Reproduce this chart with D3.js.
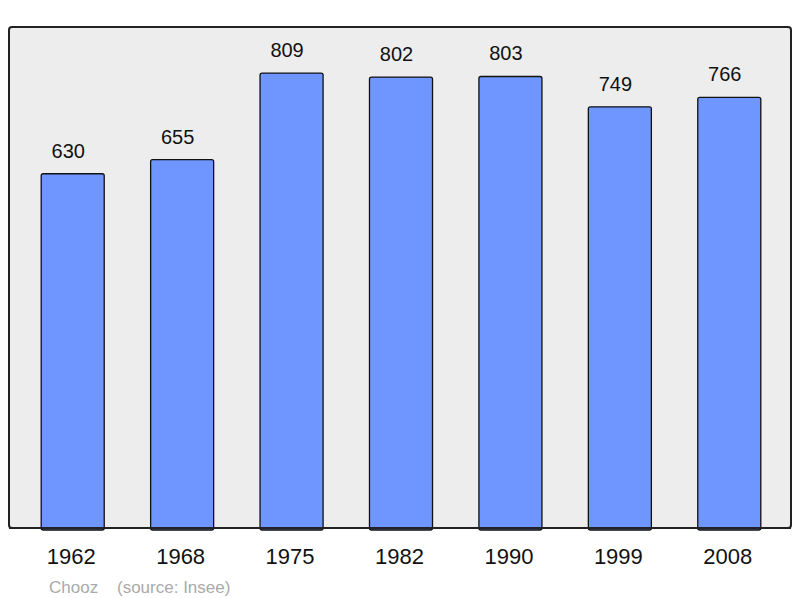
<!DOCTYPE html>
<html>
<head>
    <meta charset="utf-8">
    <script src="https://d3js.org/d3.v7.min.js"></script>
    <style>
        html, body {
            margin: 0;
            padding: 0;
            background: #fff;
        }
        svg text {
            font-family: "Liberation Sans", Arial, sans-serif;
        }
    </style>
</head>
<body>
<div id="chart"></div>
<script>
    var years = ["1962", "1968", "1975", "1982", "1990", "1999", "2008"];
    var population = [630, 655, 809, 802, 803, 749, 766];
    var townName = "Chooz";
    var sourceNote = "(source: Insee)";

    var width = 800,
        height = 598;

    var svg = d3.select("#chart").append("svg")
        .attr("width", width)
        .attr("height", height);

    // panel background
    svg.append("rect")
        .attr("x", 9)
        .attr("y", 27)
        .attr("width", 782)
        .attr("height", 501)
        .attr("rx", 3)
        .attr("fill", "#ededed")
        .attr("stroke", "#222")
        .attr("stroke-width", 2);

    var x = d3.scaleBand()
        .domain(years)
        .range([18, 784])
        .paddingInner(0.424)
        .paddingOuter(0.212);

    var y = d3.scaleLinear()
        .domain([0, 891])
        .range([528, 27]);

    var bars = svg.append("g");

    bars.selectAll("rect")
        .data(population)
        .enter().append("rect")
        .attr("x", function (d, i) { return x(years[i]); })
        .attr("y", function (d) { return y(d); })
        .attr("width", x.bandwidth())
        .attr("height", function (d) { return y(0) - y(d) + 2; })
        .attr("rx", 2)
        .attr("fill", "#6f96ff")
        .attr("stroke", "#111")
        .attr("stroke-width", 1.3);

    // value labels sit a little left of the bar centre in the original
    bars.selectAll("text")
        .data(population)
        .enter().append("text")
        .attr("x", function (d, i) { return x(years[i]) + x.bandwidth() / 2 - 4.5; })
        .attr("y", function (d) { return y(d) - 16; })
        .attr("text-anchor", "middle")
        .attr("font-size", 20)
        .attr("fill", "#111")
        .text(function (d) { return d; });

    // redraw the bottom border over the bars
    svg.append("line")
        .attr("x1", 9)
        .attr("x2", 791)
        .attr("y1", 528)
        .attr("y2", 528)
        .attr("stroke", "#222")
        .attr("stroke-width", 2);

    svg.append("g").selectAll("text")
        .data(years)
        .enter().append("text")
        .attr("x", function (d) { return x(d) + x.bandwidth() / 2 - 1.5; })
        .attr("y", 564)
        .attr("text-anchor", "middle")
        .attr("font-size", 22)
        .attr("fill", "#111")
        .text(function (d) { return d; });

    svg.append("text")
        .attr("x", 49)
        .attr("y", 593)
        .attr("font-size", 17)
        .attr("fill", "#aaa")
        .text(townName);

    svg.append("text")
        .attr("x", 117)
        .attr("y", 593)
        .attr("font-size", 17)
        .attr("fill", "#aaa")
        .text(sourceNote);
</script>
</body>
</html>
